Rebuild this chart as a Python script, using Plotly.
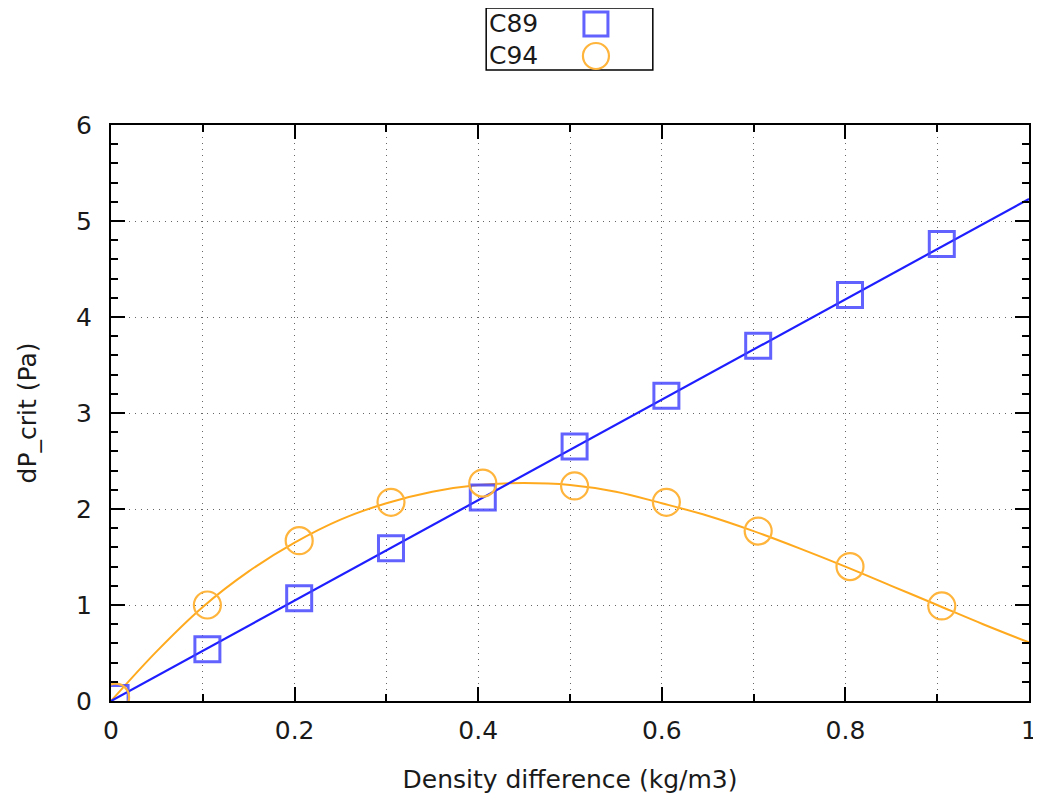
import plotly.graph_objects as go

x_pts = [0.0, 0.1, 0.2, 0.3, 0.4, 0.5, 0.6, 0.7, 0.8, 0.9]
c89 = [0.03, 0.54, 1.07, 1.59, 2.12, 2.65, 3.18, 3.70, 4.23, 4.76]
c94 = [0.04, 1.00, 1.67, 2.07, 2.27, 2.24, 2.07, 1.77, 1.40, 0.99]

# Fitted curves
c89_fit_x = [0.0, 1.0]
c89_fit_y = [0.0, 5.23]
c94_fit_x = [0.0, 0.05, 0.1, 0.15, 0.2, 0.25, 0.3, 0.35, 0.4, 0.45, 0.5,
             0.55, 0.6, 0.65, 0.7, 0.75, 0.8, 0.85, 0.9, 0.95, 1.0]
c94_fit_y = [0.0, 0.52, 0.98, 1.35, 1.65, 1.89, 2.06, 2.18, 2.25, 2.27, 2.25,
             2.18, 2.06, 1.93, 1.77, 1.59, 1.40, 1.20, 1.00, 0.80, 0.61]

x_ticks = [0, 0.2, 0.4, 0.6, 0.8, 1]
x_tick_text = ["0", "0.2", "0.4", "0.6", "0.8", "1"]
y_ticks = [0, 1, 2, 3, 4, 5, 6]

BLUE_LINE = "rgb(30,30,255)"
BLUE_MK = "rgba(70,70,255,0.85)"
ORANGE_LINE = "rgb(255,170,30)"
ORANGE_MK = "rgb(255,180,60)"
TEXT = "#1a1a1a"
FONT = "DejaVu Sans, Noto Sans, sans-serif"

# page body has an 8px default margin; plot area targeted at 111..1031 x 125..701 on screen
L, T = 103, 117
R = 1041 - 1023
B = 797 - 693

fig = go.Figure()
fig.add_trace(go.Scatter(x=c94_fit_x, y=c94_fit_y, mode="lines", line=dict(color=ORANGE_LINE, width=2, shape="spline"),
                         showlegend=False, hoverinfo="skip"))
fig.add_trace(go.Scatter(x=c89_fit_x, y=c89_fit_y, mode="lines", line=dict(color=BLUE_LINE, width=2.2),
                         showlegend=False, hoverinfo="skip"))
fig.add_trace(go.Scatter(x=x_pts, y=c89, mode="markers", name="C89", xaxis="x2",
                         marker=dict(symbol="square-open", size=25, color=BLUE_MK, line=dict(width=3, color=BLUE_MK)),
                         showlegend=False))
fig.add_trace(go.Scatter(x=x_pts, y=c94, mode="markers", name="C94", xaxis="x2",
                         marker=dict(symbol="circle-open", size=27, color=ORANGE_MK, line=dict(width=2.2, color=ORANGE_MK)),
                         showlegend=False))

axis_common = dict(showline=True, linecolor="black", linewidth=2, mirror="ticks",
                   ticks="inside", tickcolor="black", tickwidth=1.5, ticklen=14,
                   showgrid=True, gridcolor="#666666", gridwidth=1, griddash="1px,5px",
                   zeroline=False, tickfont=dict(family=FONT, size=25, color=TEXT))

fig.update_layout(
    width=1041, height=797,
    margin=dict(l=L, r=R, t=T, b=B),
    paper_bgcolor="white", plot_bgcolor="white",
    font=dict(family=FONT, size=25, color=TEXT),
    xaxis=dict(range=[0, 1], tickvals=x_ticks, ticktext=x_tick_text,
               minor=dict(dtick=0.1, tick0=0, ticks="inside", ticklen=7, tickcolor="black", tickwidth=1.5,
                          showgrid=True, gridcolor="#666666", gridwidth=1, griddash="1px,5px"),
               title=dict(text="Density difference (kg/m3)", font=dict(family=FONT, size=25, color=TEXT), standoff=26),
               ticklabelstandoff=6,
               **axis_common),
    xaxis2=dict(range=[-0.005, 0.995], overlaying="x", visible=False),
    yaxis=dict(range=[0, 6], tickvals=y_ticks,
               minor=dict(dtick=0.2, tick0=0, ticks="inside", ticklen=7, tickcolor="black", tickwidth=1.5, showgrid=False),
               title=dict(text="dP_crit (Pa)", font=dict(family=FONT, size=25, color=TEXT), standoff=32),
               ticklabelstandoff=12,
               **axis_common),
)

# Manual gnuplot-style legend (text left, sample right); coordinates in screen pixels
W_PLOT = 1041 - L - R
H_PLOT = 797 - T - B
px = lambda X: (X - 8 - L) / float(W_PLOT)
py = lambda Y: (797 - B - (Y - 8)) / float(H_PLOT)
fig.add_shape(type="rect", xref="paper", yref="paper", x0=px(487), x1=px(654), y0=py(70), y1=py(8),
              line=dict(color="black", width=1.5), fillcolor="rgba(0,0,0,0)")
fig.add_annotation(xref="paper", yref="paper", x=px(488), y=py(24), text="C89", showarrow=False,
                   xanchor="left", yanchor="middle", font=dict(family=FONT, size=25, color=TEXT))
fig.add_annotation(xref="paper", yref="paper", x=px(488), y=py(56), text="C94", showarrow=False,
                   xanchor="left", yanchor="middle", font=dict(family=FONT, size=25, color=TEXT))
fig.add_shape(type="rect", xref="paper", yref="paper", xsizemode="pixel", ysizemode="pixel",
              xanchor=px(597), yanchor=py(24), x0=-12, x1=12, y0=-12, y1=12,
              line=dict(color=BLUE_MK, width=3))
fig.add_shape(type="circle", xref="paper", yref="paper", xsizemode="pixel", ysizemode="pixel",
              xanchor=px(597), yanchor=py(56), x0=-13, x1=13, y0=-13, y1=13,
              line=dict(color=ORANGE_MK, width=2.2))

fig.write_html("out.html")
